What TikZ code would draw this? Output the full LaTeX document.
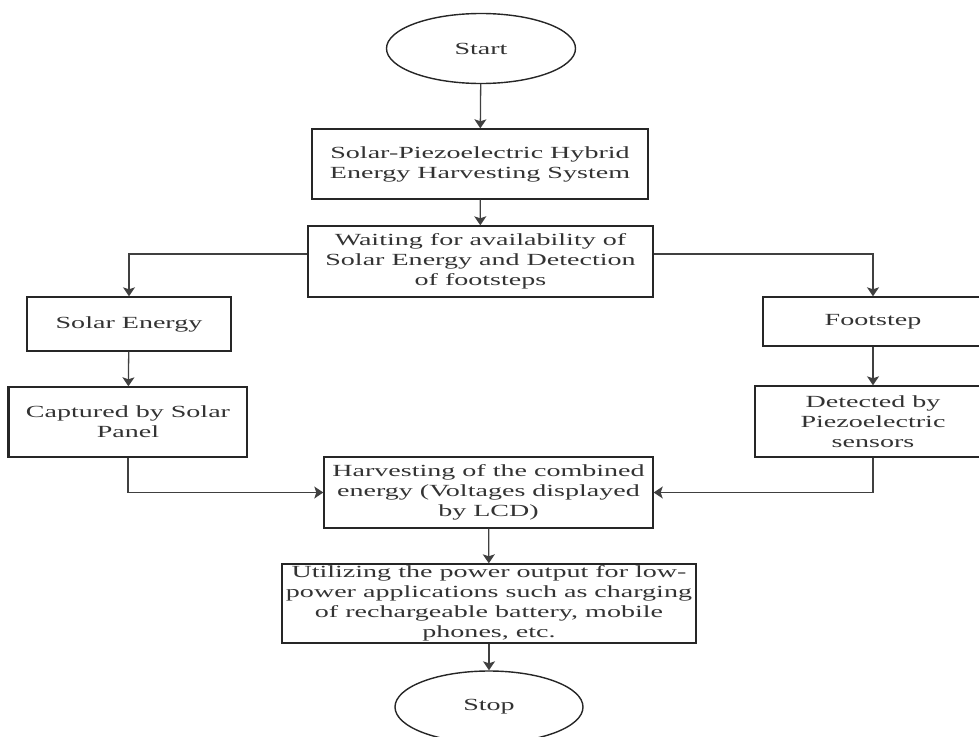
\documentclass[tikz,border=0pt]{standalone}
\usepackage{fontspec}
\setmainfont{Liberation Serif}[FakeStretch=1.65]
\usetikzlibrary{shapes.geometric,arrows.meta}

\begin{document}
\begin{tikzpicture}[x=1pt, y=-1pt,
		box/.style={draw=black!85, line width=1.4pt, inner sep=0pt, align=center,
			text=black!80, font=\fontsize{17}{20}\selectfont},
		term/.style={box, ellipse},
		arr/.style={line width=1.3pt, draw=black!75, -{Stealth[length=9pt, width=12pt, inset=2pt]}},
		link/.style={line width=1.3pt, draw=black!75}]
		%%%%% START %%%%%
		
		\useasboundingbox (0, 0) rectangle (979, 736);
		\clip (0, 0) rectangle (979, 736);
		
		\node[term, minimum width=189pt, minimum height=70pt] (start) at (481, 48.5) {Start};
		\node[box, minimum width=336pt, minimum height=70pt] (hybrid) at (480, 164) {Solar-Piezoelectric Hybrid\\Energy Harvesting System};
		\node[box, minimum width=345pt, minimum height=71pt] (wait) at (480.5, 261.5) {Waiting for availability of\\Solar Energy and Detection\\of footsteps};
		
		\node[box, minimum width=204pt, minimum height=54pt] (solar) at (129, 324) {Solar Energy};
		\node[box, minimum width=220pt, minimum height=49pt] (foot) at (873, 321.5) {Footstep};
		\node[box, minimum width=238pt, minimum height=70pt] (capt) at (128, 422) {Captured by Solar\\Panel};
		\draw[line width=3pt, black!85] (capt.north west) -- (capt.south west);
		\node[box, minimum width=236pt, minimum height=71pt] (detect) at (873, 421.5) {Detected by\\Piezoelectric\\sensors};
		
		\node[box, minimum width=329pt, minimum height=71pt] (harvest) at (488.5, 492.5) {Harvesting of the combined\\energy (Voltages displayed\\by LCD)};
		\node[box, minimum width=414pt, minimum height=79pt] (use) at (489, 603.5) {Utilizing the power output for low-\\power applications such as charging\\of rechargeable battery, mobile\\phones, etc.};
		\node[term, minimum width=188pt, minimum height=72pt] (stop) at (489, 707) {Stop};
		
		\draw[arr] (start) -- (hybrid);
		\draw[arr] (hybrid) -- (wait);
		\draw[arr] ([yshift=7.5pt]wait.west) -| (solar.north);
		\draw[arr] ([yshift=7.5pt]wait.east) -| (foot.north);
		\draw[arr] (solar) -- (capt);
		\draw[arr] (foot) -- (detect);
		\draw[arr] (capt.south) |- (harvest.west);
		\draw[arr] (detect.south) |- (harvest.east);
		\draw[arr] (harvest) -- (use);
		\draw[arr] (use) -- (stop);
		
		%%%%% END %%%%%
	\end{tikzpicture}
\end{document}
